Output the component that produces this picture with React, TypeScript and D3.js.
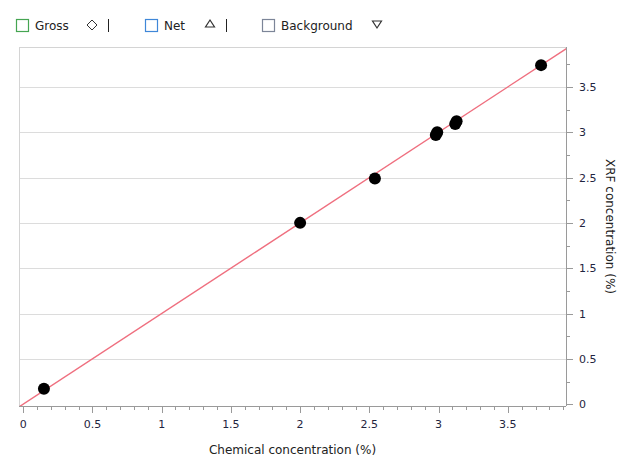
import React from 'react';
import * as d3 from 'd3';

// calibration points: chemical (x) vs XRF (y)
const chemical = [0.15, 2.0, 2.54, 2.98, 2.99, 3.12, 3.13, 3.74];
const xrf = [0.17, 2.0, 2.49, 2.97, 3.0, 3.09, 3.12, 3.74];
const xTicks = [0, 0.5, 1, 1.5, 2, 2.5, 3, 3.5];
const yTicks = [0, 0.5, 1, 1.5, 2, 2.5, 3, 3.5];
const legendNames = ['Gross', 'Net', 'Background'];

const W = 620;
const H = 460;
const left = 19, right = 566, top = 47, bottom = 406;
const font = 'DejaVu Sans, Verdana, sans-serif';

const App = () => {
  const x = d3.scaleLinear().domain([-0.03, 3.92]).range([left, right]);
  const y = d3.scaleLinear().domain([-0.02, 3.94]).range([bottom, top]);

  const xMinor = d3.range(0, 3.95, 0.1);
  const yMinor = d3.range(0, 3.95, 0.25);

  const fitLine = d3.line<number>().x((d) => x(d)).y((d) => y(d));

  const legendX = [16, 145, 262];
  const legendColors = ['#45a552', '#3f87d8', '#7c8598'];
  const symX = [92, 210, 377];

  return (
    <svg width={W} height={H} style={{ position: 'absolute', left: 0, top: 0, background: '#fff' }}
      fontFamily={font}>
      <defs>
        <clipPath id="plot">
          <rect x={left} y={top} width={right - left} height={bottom - top} />
        </clipPath>
      </defs>

      {/* legend */}
      {legendNames.map((name, i) => (
        <g key={name}>
          <rect x={legendX[i] + 0.5} y={19.5} width={12} height={12} fill="#fff"
            stroke={legendColors[i]} strokeWidth={1.2} />
          <text x={legendX[i] + 19} y={30} fontSize={12} fill="#222">{name}</text>
        </g>
      ))}
      <path d={`M${symX[0]},20 L${symX[0] + 5},25 L${symX[0]},30 L${symX[0] - 5},25 Z`}
        fill="none" stroke="#333" strokeWidth={1} />
      <path d={`M${symX[1]},20 L${symX[1] + 4.5},27 L${symX[1] - 4.5},27 Z`}
        fill="none" stroke="#333" strokeWidth={1.2} />
      <path d={`M${symX[2] - 4.5},21 L${symX[2] + 4.5},21 L${symX[2]},28 Z`}
        fill="none" stroke="#333" strokeWidth={1.2} />
      <line x1={108.5} x2={108.5} y1={19} y2={32} stroke="#222" />
      <line x1={226.5} x2={226.5} y1={19} y2={32} stroke="#222" />

      {/* grid */}
      {yTicks.slice(1).map((t) => (
        <line key={t} x1={left} x2={right} y1={Math.round(y(t)) + 0.5} y2={Math.round(y(t)) + 0.5}
          stroke="#dcdcdc" />
      ))}
      <line x1={left + 0.5} x2={left + 0.5} y1={top} y2={bottom} stroke="#d4d4d4" />
      <line x1={left} x2={right} y1={top + 0.5} y2={top + 0.5} stroke="#d4d4d4" />

      {/* fit line y = x */}
      <path d={fitLine([-0.03, 3.95]) ?? ''} fill="none" stroke="#ef6f7f" strokeWidth={1.4}
        clipPath="url(#plot)" />

      {/* points */}
      {chemical.map((c, i) => (
        <circle key={i} cx={x(c)} cy={y(xrf[i])} r={6} fill="#000" />
      ))}

      {/* x axis */}
      <line x1={left} x2={right} y1={bottom + 0.5} y2={bottom + 0.5} stroke="#9a9a9a" />
      {xMinor.map((t, i) => (
        <line key={i} x1={Math.round(x(t)) + 0.5} x2={Math.round(x(t)) + 0.5}
          y1={bottom} y2={bottom + (i % 5 === 0 ? 7 : 4)} stroke="#9a9a9a" />
      ))}
      {xTicks.map((t) => (
        <text key={t} x={x(t)} y={428} fontSize={11} fill="#1f2440" textAnchor="middle">{t}</text>
      ))}
      <text x={(left + right) / 2} y={454} fontSize={12} fill="#222" textAnchor="middle">
        Chemical concentration (%)
      </text>

      {/* y axis (right) */}
      <line x1={right + 0.5} x2={right + 0.5} y1={top} y2={bottom} stroke="#9a9a9a" />
      {yMinor.map((t, i) => (
        <line key={i} x1={right} x2={right + (i % 2 === 0 ? 7 : 4)}
          y1={Math.round(y(t)) + 0.5} y2={Math.round(y(t)) + 0.5} stroke="#9a9a9a" />
      ))}
      {yTicks.map((t) => (
        <text key={t} x={579} y={y(t) + 4} fontSize={11} fill="#1f2440">{t}</text>
      ))}
      <text transform={`translate(606,${(top + bottom) / 2}) rotate(90)`} fontSize={12} fill="#222"
        textAnchor="middle">XRF concentration (%)</text>
    </svg>
  );
};

export default App;
